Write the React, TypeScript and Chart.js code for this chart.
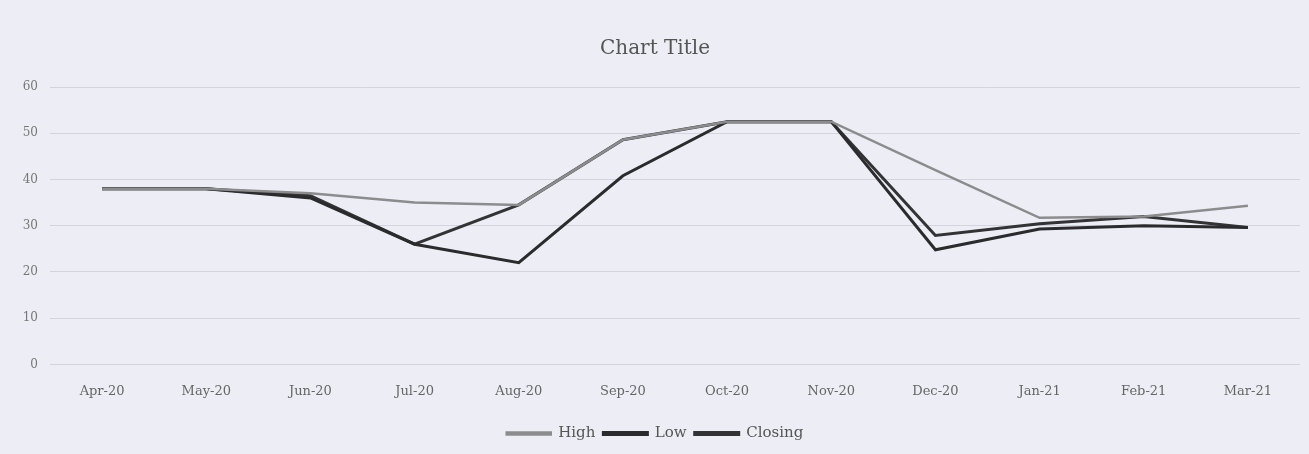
import React, { useEffect, useRef } from "react";
import { Chart, registerables } from "chart.js";

Chart.register(...registerables);

const months = ["Apr-20", "May-20", "Jun-20", "Jul-20", "Aug-20", "Sep-20", "Oct-20", "Nov-20", "Dec-20", "Jan-21", "Feb-21", "Mar-21"];
const high = [38, 38, 37, 35, 34.5, 48.6, 52.5, 52.5, 42, 31.7, 32, 34.3];
const low = [38, 38, 36, 26, 22, 40.8, 52.5, 52.5, 24.8, 29.3, 30, 29.6];
const closing = [38, 38, 36.5, 26, 34.5, 48.6, 52.5, 52.5, 27.9, 30.4, 32, 29.6];
const yTicks = [0, 10, 20, 30, 40, 50, 60];

const FONT = "'DejaVu Serif', 'Liberation Serif', serif";

export default function App() {
  const ref = useRef<HTMLCanvasElement | null>(null);
  useEffect(() => {
    if (!ref.current) return;
    const chart = new Chart(ref.current, {
      type: "line",
      data: {
        labels: months,
        datasets: [
          { label: "High", data: high, borderColor: "#8c8c8f", backgroundColor: "#8c8c8f", borderWidth: 2.5, pointRadius: 0, tension: 0 },
          { label: "Low", data: low, borderColor: "#2b2b2e", backgroundColor: "#2b2b2e", borderWidth: 3, pointRadius: 0, tension: 0 },
          { label: "Closing", data: closing, borderColor: "#333336", backgroundColor: "#333336", borderWidth: 3, pointRadius: 0, tension: 0 },
        ],
      },
      options: {
        responsive: false,
        animation: false,
        layout: { padding: { top: 37, right: 9, left: 10, bottom: 3 } },
        plugins: {
          title: {
            display: true,
            text: "Chart Title",
            color: "#555",
            font: { family: FONT, size: 20, weight: "normal" },
            padding: { top: 0, bottom: 26 },
          },
          legend: {
            position: "bottom",
            labels: {
              color: "#555",
              font: { family: FONT, size: 15 },
              boxWidth: 44,
              boxHeight: 2,
              padding: 8,
            },
          },
          tooltip: { enabled: false },
        },
        scales: {
          x: {
            offset: true,
            grid: { display: false, drawTicks: false },
            border: { display: false },
            ticks: { color: "#666", font: { family: FONT, size: 13 }, padding: 19, maxRotation: 0 },
          },
          y: {
            min: 0,
            max: 60,
            afterBuildTicks: (axis: any) => {
              axis.ticks = yTicks.map((v) => ({ value: v }));
            },
            afterFit: (axis: any) => {
              axis.width = 40;
            },
            grid: { color: "#d4d4de", lineWidth: 1, drawTicks: false },
            border: { display: false },
            ticks: { color: "#777", font: { family: FONT, size: 12 }, padding: 12 },
          },
        },
      },
    });
    return () => chart.destroy();
  }, []);
  return (
    <div style={{ position: "absolute", left: 0, top: 0, width: 1309, height: 454, background: "#ededf5" }}>
      <canvas ref={ref} width={1309} height={454} style={{ display: "block" }} />
    </div>
  );
}
